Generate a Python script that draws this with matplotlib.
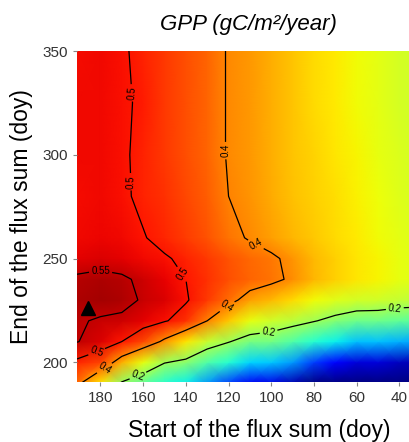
import numpy as np
import matplotlib.pyplot as plt

plt.rcParams['font.family'] = ['Liberation Sans', 'DejaVu Sans']

# start / end of the flux sum (doy)
start_doy = [191, 180, 170, 160, 150, 140, 130, 120, 110, 100, 90, 80, 70, 60, 50, 40, 30]
end_doy = [190, 200, 210, 220, 230, 240, 250, 260, 280, 300, 325, 350]

# values, one list per end doy
r_190 = [0.42, 0.31, 0.19, 0.135, 0.075, 0.045, -0.03, -0.11, -0.18, -0.19, -0.23, -0.27, -0.28, -0.28, -0.285, -0.29, -0.29]
r_200 = [0.49, 0.46, 0.36, 0.28, 0.205, 0.18, 0.12, 0.075, 0.02, 0.01, -0.03, -0.11, -0.16, -0.2, -0.2, -0.22, -0.23]
r_210 = [0.552, 0.53, 0.50, 0.455, 0.385, 0.31, 0.245, 0.205, 0.16, 0.155, 0.12, 0.075, 0.045, 0.005, 0.005, -0.01, -0.02]
r_220 = [0.555, 0.545, 0.54, 0.525, 0.505, 0.475, 0.40, 0.335, 0.28, 0.25, 0.23, 0.205, 0.175, 0.15, 0.15, 0.135, 0.13]
r_230 = [0.565, 0.57, 0.565, 0.545, 0.53, 0.505, 0.47, 0.42, 0.375, 0.35, 0.32, 0.29, 0.27, 0.255, 0.25, 0.24, 0.235]
r_240 = [0.558, 0.565, 0.558, 0.54, 0.52, 0.50, 0.475, 0.45, 0.43, 0.415, 0.39, 0.355, 0.33, 0.31, 0.295, 0.28, 0.27]
r_250 = [0.525, 0.53, 0.525, 0.515, 0.505, 0.49, 0.47, 0.445, 0.425, 0.41, 0.385, 0.35, 0.33, 0.31, 0.295, 0.28, 0.27]
r_260 = [0.512, 0.518, 0.512, 0.503, 0.485, 0.465, 0.445, 0.415, 0.395, 0.375, 0.355, 0.335, 0.32, 0.305, 0.29, 0.275, 0.265]
r_280 = [0.51, 0.515, 0.508, 0.49, 0.475, 0.455, 0.435, 0.40, 0.385, 0.365, 0.345, 0.33, 0.315, 0.30, 0.285, 0.27, 0.26]
r_300 = [0.512, 0.515, 0.506, 0.49, 0.47, 0.45, 0.43, 0.395, 0.38, 0.36, 0.34, 0.325, 0.31, 0.295, 0.28, 0.265, 0.255]
r_325 = [0.512, 0.515, 0.505, 0.495, 0.47, 0.45, 0.43, 0.395, 0.38, 0.36, 0.34, 0.32, 0.305, 0.29, 0.275, 0.26, 0.25]
r_350 = [0.51, 0.512, 0.505, 0.49, 0.47, 0.45, 0.43, 0.395, 0.38, 0.36, 0.34, 0.32, 0.305, 0.29, 0.275, 0.26, 0.25]

levels = [0.2, 0.4, 0.5, 0.55]
best_start, best_end = 186, 226

# where the contour labels sit (start, end)
label_spots = [(163, 330), (166, 287), (121, 302), (106, 259), (141, 243), (180, 244),
               (120, 226), (181, 203), (178, 197), (163, 195), (101, 213), (42, 225)]

Z = np.array([r_190, r_200, r_210, r_220, r_230, r_240, r_250, r_260,
              r_280, r_300, r_325, r_350])
X, Y = np.meshgrid(start_doy, end_doy)

fig = plt.figure(figsize=(4.1, 4.42), dpi=100)
ax = fig.add_axes([0.1878, 0.1357, 0.8122, 0.7489])

ax.pcolormesh(X, Y, Z, cmap='jet', vmin=-0.27, vmax=0.6, shading='gouraud')
cs = ax.contour(X, Y, Z, levels=levels, colors='k', linewidths=0.9)
ax.clabel(cs, fmt='%g', fontsize=7, inline=True, inline_spacing=2, manual=label_spots)

ax.plot(best_start, best_end, marker='^', color='k', ms=10, ls='none')

ax.set_xlim(191, 35)
ax.set_ylim(190.5, 350)
ax.set_xticks([180, 160, 140, 120, 100, 80, 60, 40])
ax.set_yticks([200, 250, 300, 350])
for s in ax.spines.values():
    s.set_visible(False)
ax.tick_params(labelsize=11, colors='#888888', labelcolor='#333333', length=3, width=0.8)

ax.set_title('GPP (gC/m²/year)', fontsize=16, style='italic', pad=15, x=0.515)
ax.set_xlabel('Start of the flux sum (doy)', fontsize=16.5)
ax.set_ylabel('End of the flux sum (doy)', fontsize=16.5)
ax.xaxis.set_label_coords(0.547, -0.112)
ax.yaxis.set_label_coords(-0.132, 0.5)

fig.savefig('out.png', dpi=100)
